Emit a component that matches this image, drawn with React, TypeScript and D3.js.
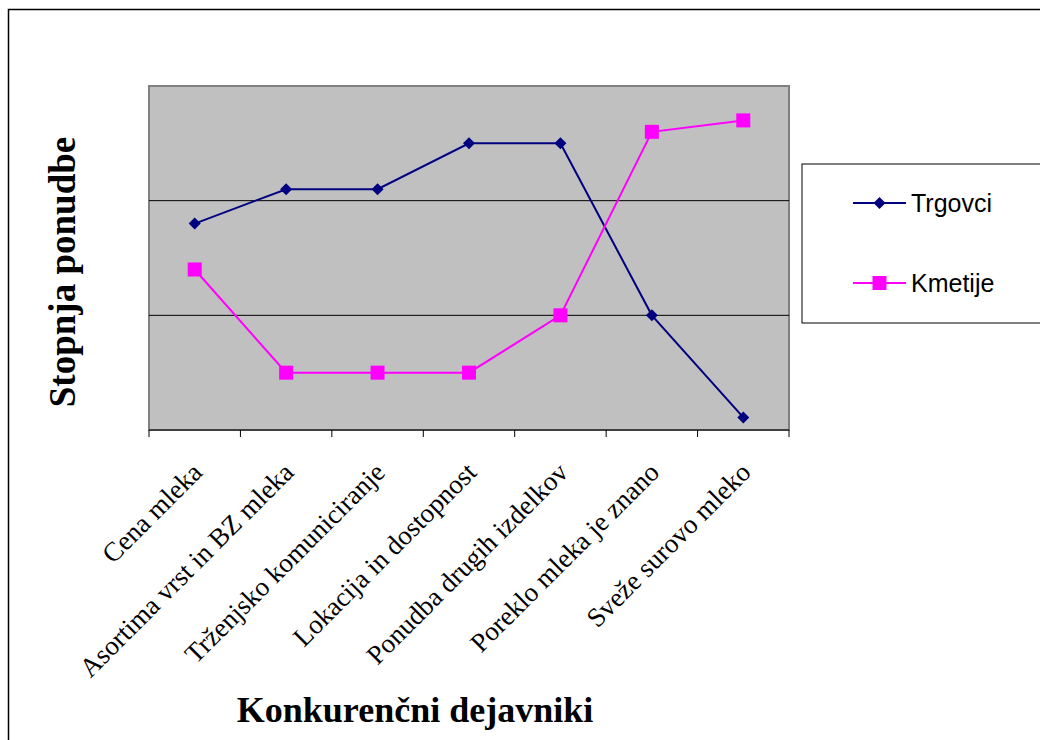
import React from "react";
import * as d3 from "d3";

const categories = [
  "Cena mleka",
  "Asortima vrst in BZ mleka",
  "Trženjsko komuniciranje",
  "Lokacija in dostopnost",
  "Ponudba drugih izdelkov",
  "Poreklo mleka je znano",
  "Sveže surovo mleko",
];
const trgovci = [1.8, 2.1, 2.1, 2.5, 2.5, 1.0, 0.11];
const kmetije = [1.4, 0.5, 0.5, 0.5, 1.0, 2.6, 2.7];
const gridValues = [1, 2];

export default function App() {
  const W = 1040, H = 740;
  const left = 149, right = 789, top = 86, bottom = 430;
  const x = d3.scaleBand<string>().domain(categories).range([left, right]).padding(0);
  const y = d3.scaleLinear().domain([0, 3]).range([bottom, top]);
  const cx = (c: string) => (x(c) as number) + x.bandwidth() / 2;
  const line = d3.line<number>().x((_, i) => cx(categories[i])).y((d) => y(d));
  const ticks = [...categories.map((c) => x(c) as number), right];
  const diamond = (px: number, py: number, r: number) =>
    `M${px},${py - r}L${px + r},${py}L${px},${py + r}L${px - r},${py}Z`;
  const navy = "#000080";
  const pink = "#FF00FF";
  const serif = "'Liberation Serif', 'Times New Roman', serif";
  const sans = "'Liberation Sans', Arial, sans-serif";
  return (
    <svg width={W} height={H} style={{ display: "block", position: "absolute", left: 0, top: 0 }}>
      <rect x={0} y={0} width={W} height={H} fill="#fff" />
      <rect x={8.5} y={9.5} width={1100} height={800} fill="#fff" stroke="#000" strokeWidth={1.5} />
      <rect x={left} y={top} width={right - left} height={bottom - top} fill="#C0C0C0" stroke="#808080" strokeWidth={2} />
      {gridValues.map((g) => (
        <line key={g} x1={left} x2={right} y1={y(g)} y2={y(g)} stroke="#000" strokeWidth={1} />
      ))}
      <line x1={left} x2={right} y1={bottom} y2={bottom} stroke="#000" strokeWidth={1} />
      {ticks.map((t, i) => (
        <line key={i} x1={t} x2={t} y1={bottom} y2={bottom + 7} stroke="#000" strokeWidth={1} />
      ))}
      <path d={line(trgovci) || ""} fill="none" stroke={navy} strokeWidth={2} />
      <path d={line(kmetije) || ""} fill="none" stroke={pink} strokeWidth={2} />
      {trgovci.map((v, i) => (
        <path key={"t" + i} d={diamond(cx(categories[i]), y(v), 6)} fill={navy} />
      ))}
      {kmetije.map((v, i) => (
        <rect key={"k" + i} x={cx(categories[i]) - 7} y={y(v) - 7} width={14} height={14} fill={pink} />
      ))}
      {categories.map((c) => (
        <text
          key={c}
          transform={`translate(${cx(c) + 9},${bottom + 44}) rotate(-45)`}
          textAnchor="end"
          fontFamily={serif}
          fontSize={27}
          fill="#000"
        >
          {c}
        </text>
      ))}
      <text
        transform={`translate(75,${272}) rotate(-90)`}
        textAnchor="middle"
        fontFamily={serif}
        fontWeight="bold"
        fontSize={37}
        fill="#000"
      >
        Stopnja ponudbe
      </text>
      <text
        x={415}
        y={722}
        textAnchor="middle"
        fontFamily={serif}
        fontWeight="bold"
        fontSize={36}
        fill="#000"
      >
        Konkurenčni dejavniki
      </text>
      <rect x={802} y={164} width={300} height={159} fill="#fff" stroke="#000" strokeWidth={1} />
      <line x1={853} x2={906} y1={203} y2={203} stroke={navy} strokeWidth={2} />
      <path d={diamond(879.5, 203, 6)} fill={navy} />
      <text x={911} y={212} fontFamily={sans} fontSize={25} fill="#000">
        Trgovci
      </text>
      <line x1={853} x2={906} y1={283} y2={283} stroke={pink} strokeWidth={2} />
      <rect x={872.5} y={276} width={14} height={14} fill={pink} />
      <text x={911} y={292} fontFamily={sans} fontSize={25} fill="#000">
        Kmetije
      </text>
    </svg>
  );
}
